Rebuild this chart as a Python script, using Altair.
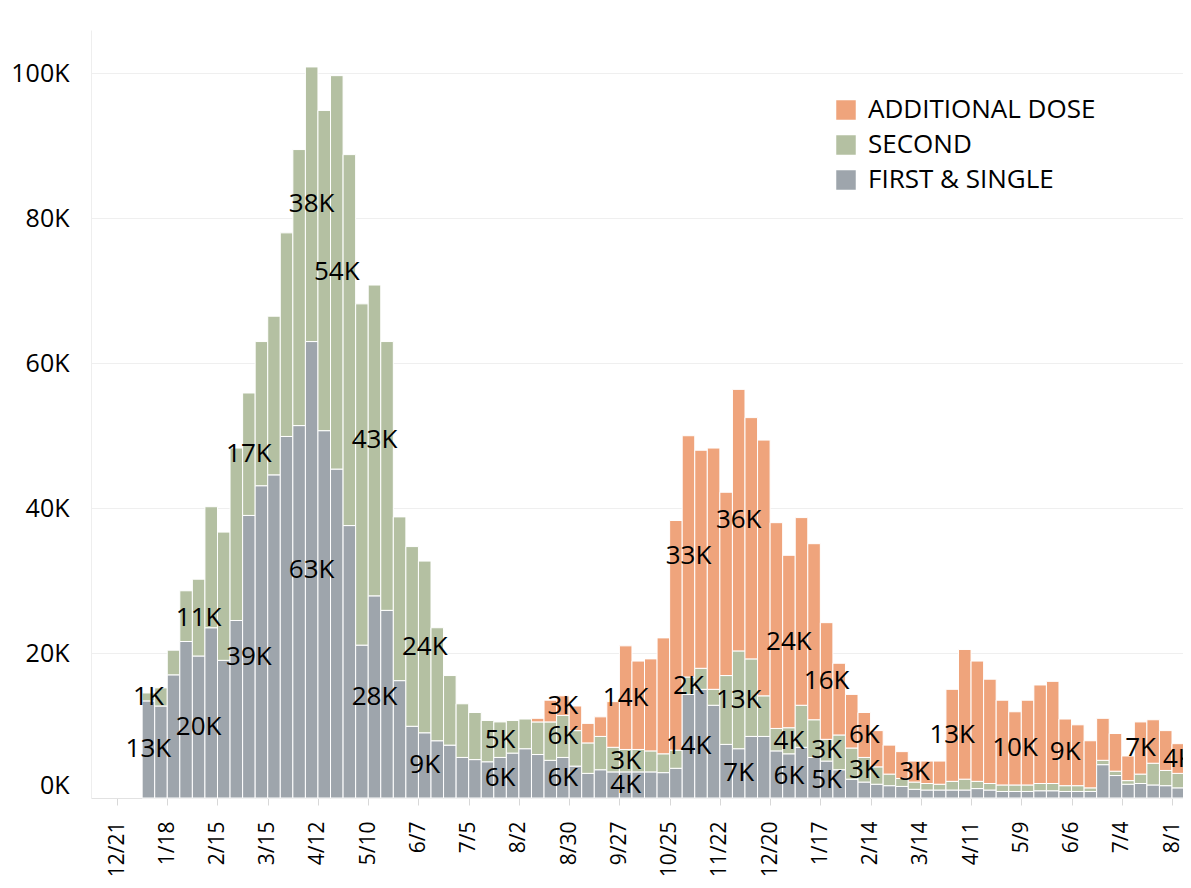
import altair as alt
import pandas as pd

# Weekly doses (thousands), weeks starting Monday 2021-01-04
first_start = "2021-01-04"
first_k = [13.4, 12.7, 17.0, 21.6, 19.6, 23.5, 19.0, 24.5, 39.0, 43.1,
           44.6, 49.9, 51.4, 63.0, 50.7, 45.4, 37.6, 21.1, 27.9, 25.9,
           16.2, 9.9, 9.0, 7.9, 7.3, 5.6, 5.3, 5.0, 5.6, 6.2,
           6.8, 6.0, 5.2, 5.6, 4.4, 3.4, 3.9, 3.6, 3.6, 3.6,
           3.6, 3.5, 4.1, 14.3, 15.0, 12.8, 7.4, 6.8, 8.5, 8.5,
           6.5, 6.1, 7.0, 5.6, 5.1, 3.9, 2.6, 2.2, 1.9, 1.7,
           1.6, 1.2, 1.1, 1.1, 1.1, 1.1, 1.3, 1.1, 0.9, 0.9,
           0.9, 1.0, 1.0, 0.9, 0.9, 0.9, 4.6, 3.1, 1.9, 2.0,
           1.8, 1.7, 1.4]
second_k = [1.1, 2.5, 3.4, 7.0, 10.6, 16.7, 17.7, 23.8, 16.9, 19.9,
            21.9, 28.1, 38.1, 37.9, 44.2, 54.3, 51.2, 47.1, 42.9, 37.1,
            22.6, 24.8, 23.7, 15.6, 9.6, 7.4, 6.5, 5.7, 4.9, 4.5,
            4.1, 4.5, 5.3, 5.8, 4.9, 4.2, 4.6, 3.4, 3.1, 3.1,
            2.9, 2.6, 2.5, 2.4, 2.9, 2.2, 9.5, 13.5, 10.7, 5.6,
            3.1, 3.6, 5.8, 5.2, 3.0, 4.8, 4.3, 3.4, 2.4, 1.6,
            1.1, 1.0, 0.9, 0.8, 1.2, 1.5, 1.0, 0.9, 0.9, 0.9,
            0.9, 1.0, 1.0, 0.8, 0.8, 0.5, 0.6, 0.6, 0.5, 1.3,
            3.0, 2.1, 2.0]
additional_k = [0] * 31 + [
            0.5, 3.0, 2.7, 3.4, 2.7, 2.7, 6.3, 14.3, 12.2,
            12.7, 16.0, 31.7, 33.3, 30.1, 33.3, 25.3, 36.1, 33.3, 35.3,
            28.4, 23.8, 25.9, 24.3, 16.1, 9.9, 7.4, 6.2, 5.0, 4.0,
            3.7, 2.9, 3.1, 3.2, 12.7, 17.9, 16.6, 14.4, 11.7, 10.1,
            11.7, 13.6, 14.1, 9.2, 8.4, 6.5, 5.8, 5.2, 3.4, 7.2,
            6.0, 5.5, 4.1]

dose_names = ["FIRST & SINGLE", "SECOND", "ADDITIONAL DOSE"]
legend_order = ["ADDITIONAL DOSE", "SECOND", "FIRST & SINGLE"]
legend_colors = ["#EFA47C", "#B4C0A2", "#9EA5AC"]

tick_dates = ["2020-12-21", "2021-01-18", "2021-02-15", "2021-03-15", "2021-04-12",
              "2021-05-10", "2021-06-07", "2021-07-05", "2021-08-02", "2021-08-30",
              "2021-09-27", "2021-10-25", "2021-11-22", "2021-12-20", "2022-01-17",
              "2022-02-14", "2022-03-14", "2022-04-11", "2022-05-09", "2022-06-06",
              "2022-07-04", "2022-08-01"]
y_ticks = [0, 20000, 40000, 60000, 80000, 100000]

# Segment labels shown on the chart: week index, dose (F/S/A), text
label_week = [0, 0, 4, 4, 8, 8, 13, 13, 15, 18, 18, 22, 22, 28, 28,
              33, 33, 33, 38, 38, 38, 43, 43, 43, 47, 47, 47, 51, 51, 51,
              54, 54, 54, 57, 57, 61, 64, 69, 73, 79, 82]
label_code = ["F", "S", "F", "S", "F", "S", "F", "S", "S", "F", "S", "F", "S", "F", "S",
              "F", "S", "A", "F", "S", "A", "F", "S", "A", "F", "S", "A", "F", "S", "A",
              "F", "S", "A", "S", "A", "A", "A", "A", "A", "A", "A"]
label_text = ["13K", "1K", "20K", "11K", "39K", "17K", "63K", "38K", "54K",
              "28K", "43K", "9K", "24K", "6K", "5K",
              "6K", "6K", "3K", "4K", "3K", "14K", "14K", "2K", "33K",
              "7K", "13K", "36K", "6K", "4K", "24K", "5K", "3K", "16K",
              "3K", "6K", "3K", "13K", "10K", "9K", "7K", "4K"]
code_to_dose = {"F": "FIRST & SINGLE", "S": "SECOND", "A": "ADDITIONAL DOSE"}

weeks = pd.date_range(first_start, periods=len(first_k), freq="7D")
series = [first_k, second_k, additional_k]
rows = []
for i, w in enumerate(weeks):
    base = 0.0
    for k, name in enumerate(dose_names):
        v = series[k][i] * 1000
        rows.append({
            "idx": i,
            "week": w.strftime("%Y-%m-%dT00:00:00Z"),
            "week_end": (w + pd.Timedelta(days=7)).strftime("%Y-%m-%dT00:00:00Z"),
            "mid": (w + pd.Timedelta(hours=84)).strftime("%Y-%m-%dT%H:%M:%SZ"),
            "dose": name, "y0": base, "y1": base + v, "ym": base + v / 2, "value": v,
        })
        base += v
df = pd.DataFrame(rows)

lab_rows = []
for wi, c, t in zip(label_week, label_code, label_text):
    r = df[(df["idx"] == wi) & (df["dose"] == code_to_dose[c])].iloc[0]
    lab_rows.append({"mid": r["mid"], "ym": r["ym"], "text": t})
lab_df = pd.DataFrame(lab_rows)
df = df[df["value"] > 0]

FONT = "Open Sans"

def dt(s, hours=0):
    y, m, d = [int(p) for p in s.split("-")]
    return alt.DateTime(year=y, month=m, date=d, hours=hours, utc=True)

x_scale = alt.Scale(type="utc", domain=[dt("2020-12-06", 12), dt("2022-08-07", 3)])
y_scale = alt.Scale(domain=[0, 106000], nice=False, zero=True)

bars = alt.Chart(df).mark_bar(stroke="white", strokeWidth=1).encode(
    x=alt.X("week:T", scale=x_scale, title=None,
            axis=alt.Axis(values=[dt(s) for s in tick_dates], format="%-m/%-d",
                          labelAngle=270, labelFontSize=21, labelFont=FONT,
                          labelColor="#000", grid=False, domainColor="#e2e2e2",
                          tickColor="#d8d8d8", tickSize=7, labelPadding=16,
                          labelOverlap=False)),
    x2="week_end:T",
    y=alt.Y("y0:Q", scale=y_scale, title=None,
            axis=alt.Axis(values=y_ticks, labelExpr="datum.value/1000 + 'K'",
                          labelFontSize=25, labelFont=FONT, labelColor="#000",
                          domain=True, domainColor="#eeeeee", ticks=False,
                          gridColor="#efefef", labelPadding=22, labelFlush=True)),
    y2="y1:Q",
    color=alt.Color("dose:N", scale=alt.Scale(domain=legend_order, range=legend_colors),
                    legend=alt.Legend(title=None, orient="none", legendX=742, legendY=67,
                                      symbolType="square", symbolSize=380,
                                      symbolStrokeWidth=0, labelFontSize=26,
                                      labelFont=FONT, labelColor="#000", labelLimit=0,
                                      rowPadding=9, labelOffset=9)),
)

labels = alt.Chart(lab_df).mark_text(font=FONT, fontSize=26, color="#000").encode(
    x=alt.X("mid:T", scale=x_scale),
    y=alt.Y("ym:Q", scale=y_scale),
    text="text:N",
)

chart = alt.layer(bars, labels).properties(
    width=1092, height=768,
    padding={"left": 83, "top": 22, "right": 0, "bottom": 82},
    autosize=alt.AutoSizeParams(type="none"),
).configure(background="white").configure_view(stroke=None)

chart.save("out.html", embed_options={"renderer": "svg", "actions": False})
